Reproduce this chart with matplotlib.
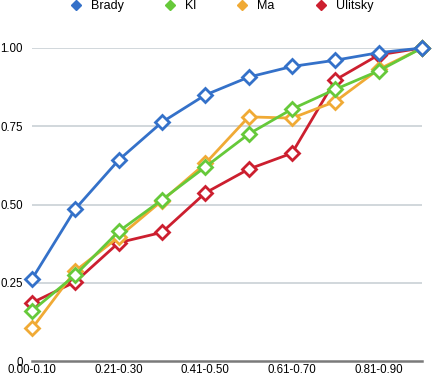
import matplotlib
matplotlib.use("Agg")
import matplotlib.pyplot as plt
from matplotlib.lines import Line2D

plt.rcParams["font.family"] = ["Liberation Sans", "DejaVu Sans"]

categories = ["0.00-0.10", "0.11-0.20", "0.21-0.30", "0.31-0.40", "0.41-0.50",
              "0.51-0.60", "0.61-0.70", "0.71-0.80", "0.81-0.90", "0.91-1.00"]
brady = [0.262, 0.486, 0.642, 0.763, 0.850, 0.907, 0.941, 0.961, 0.985, 1.0]
kl = [0.160, 0.275, 0.414, 0.515, 0.620, 0.725, 0.805, 0.868, 0.927, 1.0]
ma = [0.104, 0.288, 0.396, 0.512, 0.631, 0.780, 0.776, 0.829, 0.932, 1.0]
ulitsky = [0.186, 0.253, 0.378, 0.411, 0.537, 0.613, 0.664, 0.898, 0.978, 1.0]

series = [("Ulitsky", ulitsky, "#cc1f2f"),
          ("Ma", ma, "#f0aa35"),
          ("Kl", kl, "#66c93a"),
          ("Brady", brady, "#3471c9")]

fig = plt.figure(figsize=(4.32, 3.76), dpi=100)
ax = fig.add_axes([32 / 432, 1 - 361 / 376, 390 / 432, 313 / 376])

x = list(range(len(categories)))
for name, vals, col in series:
    ax.plot(x, vals, color=col, lw=2.0, marker="D", ms=7.5, mfc="white",
            mec=col, mew=2.0, clip_on=False, zorder=3)

ax.set_xlim(0, len(categories) - 1)
ax.set_ylim(0, 1.0)
ax.set_yticks([0, 0.25, 0.5, 0.75, 1.0])
ax.set_yticklabels(["0", "0.25", "0.50", "0.75", "1.00"])
ax.set_xticks(x[::2])
ax.set_xticklabels(categories[::2])
ax.tick_params(axis="both", length=0, labelsize=8.3)
ax.tick_params(axis="y", pad=6.5)
ax.tick_params(axis="x", pad=2.5)
for v in [0.25, 0.5, 0.75, 1.0]:
    ax.axhline(v, color="#c9d1d5", lw=1.2, zorder=1)
for s in ["top", "right", "left"]:
    ax.spines[s].set_visible(False)
ax.spines["bottom"].set_color("#7a7a7a")
ax.spines["bottom"].set_linewidth(1.8)

handles = [Line2D([], [], ls="none", marker="D", ms=5, color=c, label=n)
           for n, _, c in reversed(series)]
fig.legend(handles=handles, loc="upper center", bbox_to_anchor=(0.513, 1.03),
           ncol=4, frameon=False, fontsize=9, handlelength=1,
           handletextpad=0.7, columnspacing=3.2)

fig.savefig("out.png", dpi=100)
